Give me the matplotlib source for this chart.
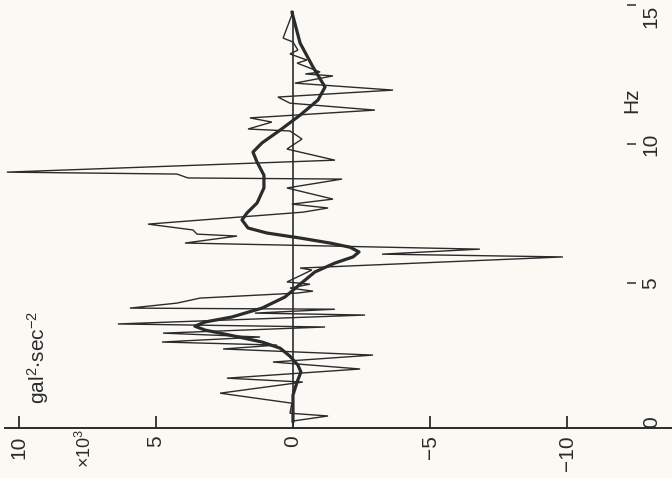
import matplotlib
matplotlib.use('Agg')
import matplotlib.pyplot as plt

# ---- data (values in units of 10^3 gal^2*sec^-2, frequency in Hz) ----
raw_freq = [14.75, 13.81, 13.67, 13.38, 13.24, 13.02, 12.91, 12.59, 12.52, 12.45,
            12.19, 11.94, 11.69, 11.47, 11.22, 10.94, 10.79, 10.54, 10.47, 10.18,
            9.82, 9.42, 8.99, 8.92, 8.78, 8.74, 8.42, 8.02, 7.84, 7.70,
            7.55, 7.12, 6.91, 6.76, 6.69, 6.44, 6.22, 6.04, 5.94, 5.54,
            5.47, 5.04, 4.96, 4.82, 4.71, 4.64, 4.46, 4.28, 4.10, 4.06,
            3.92, 3.85, 3.53, 3.42, 3.20, 3.06, 2.88, 2.77, 2.63, 2.41,
            2.16, 1.91, 1.58, 1.44, 1.04, 0.68, 0.32, 0.22, 0.04, 0.00]
raw_val = [0.00, 0.36, 0.00, -0.18, 0.11, -0.51, -0.15, -0.99, -0.45, -1.46,
           -0.07, -3.65, 0.55, 0.11, -2.99, 1.57, 0.77, 1.64, 0.11, -0.33,
           0.22, -1.53, 10.44, 4.23, 3.83, -1.79, 0.22, -1.46, 0.04, -1.28,
           -0.36, 5.29, 3.65, 3.50, 2.04, 3.94, -6.82, -3.25, -9.85, -0.26,
           -0.69, 0.22, -0.62, 0.11, -0.73, -0.15, 3.39, 4.23, 5.95, -1.53,
           1.39, -2.63, 6.39, -1.17, 4.74, 1.20, 4.78, 0.58, 2.55, -2.92,
           0.73, -2.45, 2.41, -0.36, 2.66, 0.04, 0.11, -1.28, 0.00, 0.00]

smooth_freq = [14.75, 13.63, 12.77, 12.05, 11.58, 11.04, 10.50, 10.04, 9.71, 9.35,
               8.88, 8.42, 7.88, 7.52, 7.27, 6.98, 6.80, 6.62, 6.44, 6.29,
               6.12, 5.94, 5.72, 5.40, 4.96, 4.50, 4.10, 3.78, 3.60, 3.45,
               3.31, 3.09, 2.88, 2.66, 2.37, 2.05, 1.80, 1.44, 0.97, 0.43, 0.00]
smooth_val = [0.04, -0.26, -0.73, -1.17, -0.91, -0.26, 0.47, 1.13, 1.46, 1.31,
              1.06, 1.06, 1.31, 1.68, 1.86, 1.64, 0.95, -0.26, -1.35, -2.08,
              -2.41, -2.19, -1.53, -0.80, -0.26, 0.29, 1.13, 2.23, 3.21, 3.58,
              3.21, 2.12, 1.13, 0.47, 0.11, -0.18, -0.29, -0.15, 0.00, 0.00, 0.00]

value_ticks = [10, 5, 0, -5, -10]
value_labels = ['10', '5', '0', '\u22125', '\u221210']
freq_ticks = [0, 5, 10, 15]
freq_labels = ['0', '5', '10', '15']

# ---- style ----
paper = '#fbf9f3'
ink = '#2b2b2b'
plt.rcParams['font.family'] = ['Liberation Sans', 'DejaVu Sans']
plt.rcParams['mathtext.default'] = 'regular'

fig = plt.figure(figsize=(6.72, 4.78), dpi=100, facecolor=paper)
ax = fig.add_axes([0, 0, 1, 1])
ax.set_facecolor(paper)
ax.set_xlim(10.69, -13.83)
ax.set_ylim(-2.01, 15.18)

axis_level = -0.22

# curves
ax.plot(raw_val, raw_freq, color=ink, lw=1.0, solid_joinstyle='miter')
ax.plot(smooth_val, smooth_freq, color=ink, lw=2.3, solid_capstyle='round')
# zero line
ax.plot([0, 0], [axis_level, max(raw_freq)], color=ink, lw=1.2)

# spines
for s in ['left', 'top']:
    ax.spines[s].set_visible(False)
ax.spines['bottom'].set_position(('data', axis_level))
ax.spines['bottom'].set_bounds(10.5, -13.83)
ax.spines['bottom'].set_linewidth(1.4)
ax.spines['bottom'].set_color(ink)
ax.spines['right'].set_position(('data', -12.19))
ax.spines['right'].set_visible(False)

# value axis (horizontal)
ax.set_xticks(value_ticks)
ax.set_xticklabels(value_labels)
ax.tick_params(axis='x', direction='in', length=9, width=1.3, color=ink,
               labelsize=15, labelcolor=ink, pad=5, labelrotation=90)

# frequency axis (vertical, labels on right)
ax.yaxis.set_ticks_position('right')
ax.set_yticks(freq_ticks)
ax.set_yticklabels(freq_labels)
ax.tick_params(axis='y', direction='out', length=6.5, width=1.1, color=ink,
               labelsize=15, labelcolor=ink, pad=4, labelrotation=90)
ax.yaxis.get_major_ticks()[0].tick2line.set_visible(False)
ylabs = ax.get_yticklabels()
for lab in ylabs:
    lab.set_verticalalignment('center')
ylabs[-1].set_verticalalignment('top')

# texts
ax.text(9.31, 2.34, r'gal$^2$$\cdot$sec$^{-2}$', rotation=90, ha='center', va='center',
        fontsize=15, color=ink)
ax.text(7.6, -0.95, r'$\times$10$^3$', rotation=90, ha='center', va='center',
        fontsize=13, color=ink)
ax.text(-12.35, 11.58, 'Hz', rotation=90, ha='center', va='center',
        fontsize=15, color=ink)

fig.savefig('out.png', dpi=100, facecolor=paper)
